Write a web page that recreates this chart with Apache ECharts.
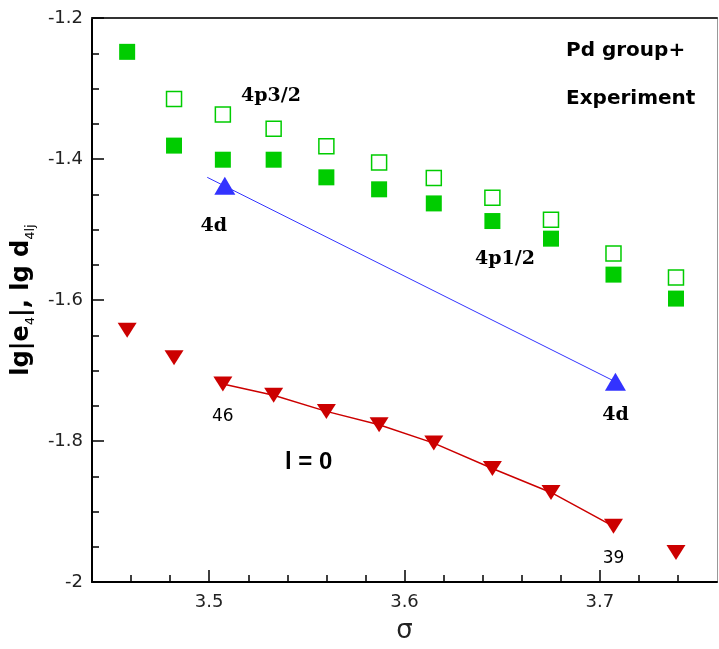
<!DOCTYPE html>
<html>
<head>
<meta charset="utf-8">
<script src="https://cdn.jsdelivr.net/npm/echarts@6/dist/echarts.min.js"></script>
<style>
html,body{margin:0;padding:0;background:#fff;}
#chart{width:719px;height:649px;}
</style>
</head>
<body>
<div id="chart"></div>
<script>
// sigma values shared by all data series
var sigma = [3.458, 3.482, 3.507, 3.533, 3.560, 3.587, 3.615, 3.645, 3.675, 3.707, 3.739];
// 4p1/2 (filled squares)
var p12 = [-1.248, -1.381, -1.401, -1.401, -1.426, -1.443, -1.463, -1.488, -1.513, -1.564, -1.598];
// 4p3/2 (open squares), starts at sigma index 1
var p32 = [null, -1.315, -1.337, -1.357, -1.382, -1.405, -1.427, -1.455, -1.486, -1.534, -1.568];
// l = 0 (down triangles)
var l0 = [-1.643, -1.682, -1.719, -1.735, -1.758, -1.777, -1.803, -1.839, -1.873, -1.921, -1.958];
var l0Tags = ['', '', '46', '', '', '', '', '', '', '39', ''];
var l0LineFrom = 2, l0LineTo = 9;
// 4d (up triangles)
var d4X = [3.508, 3.708];
var d4Y = [-1.438, -1.716];
var d4Tags = ['4d', '4d'];
// 4d guide line
var d4LineX = [3.499, 3.708];
var d4LineY = [-1.426, -1.716];
// axis ticks
var xMajor = [3.5, 3.6, 3.7];
var xMinor = [3.46, 3.48, 3.52, 3.54, 3.56, 3.58, 3.62, 3.64, 3.66, 3.68, 3.72, 3.74];

function pairs(xs, ys) {
  var out = [];
  for (var i = 0; i < xs.length; i++) {
    if (ys[i] !== null && ys[i] !== undefined) out.push([xs[i], ys[i]]);
  }
  return out;
}

var GREEN = '#00cc00', RED = '#cc0000', BLUE = '#3333ff';
var labelFont = 'DejaVu Sans';

var l0Dist = { 2: 17, 9: 16 };
var l0Data = sigma.map(function (x, i) {
  var item = { value: [x, l0[i]] };
  if (l0Tags[i]) {
    item.label = {
      show: true, position: 'bottom', distance: l0Dist[i], formatter: l0Tags[i],
      fontFamily: labelFont, fontSize: 17, color: '#000'
    };
  }
  return item;
});
var l0Line = [];
for (var i = l0LineFrom; i <= l0LineTo; i++) l0Line.push([sigma[i], l0[i]]);

var d4Offsets = [[-11, 0], [0, 0]];
var d4Dist = [22, 15];
var d4Data = d4X.map(function (x, i) {
  return {
    value: [x, d4Y[i]],
    label: {
      show: true, position: 'bottom', distance: d4Dist[i], offset: d4Offsets[i],
      formatter: d4Tags[i], fontFamily: 'DejaVu Serif', fontWeight: 'bold', fontSize: 19, color: '#000'
    }
  };
});

var chart = echarts.init(document.getElementById('chart'), null, { renderer: 'canvas' });

var option = {
  backgroundColor: '#fff',
  animation: false,
  grid: { left: 92, right: 2, top: 18, bottom: 61, containLabel: false },
  xAxis: [
    {
      type: 'value', min: 3.44, max: 3.76, position: 'bottom',
      axisLine: { show: true, onZero: false, lineStyle: { color: '#000', width: 2 } },
      axisTick: { show: true, inside: true, length: 12, customValues: xMajor, lineStyle: { color: '#000', width: 1.5 } },
      axisLabel: { show: true, customValues: xMajor, margin: 11, fontFamily: labelFont, fontSize: 18, color: '#222' },
      splitLine: { show: false },
      name: 'σ', nameLocation: 'middle', nameGap: 36,
      nameTextStyle: { fontFamily: labelFont, fontSize: 26, color: '#222' }
    },
    {
      type: 'value', min: 3.44, max: 3.76, position: 'bottom', offset: 0,
      axisLine: { show: false, onZero: false },
      axisTick: { show: true, inside: true, length: 7, customValues: xMinor, lineStyle: { color: '#000', width: 1.5 } },
      axisLabel: { show: false },
      splitLine: { show: false }
    },
    {
      type: 'value', min: 3.44, max: 3.76, position: 'top',
      axisLine: { show: true, onZero: false, lineStyle: { color: '#333', width: 2 } },
      axisTick: { show: false }, axisLabel: { show: false }, splitLine: { show: false }
    }
  ],
  yAxis: [
    {
      type: 'value', min: -2, max: -1.2, interval: 0.2, position: 'left',
      axisLine: { show: true, onZero: false, lineStyle: { color: '#000', width: 2 } },
      axisTick: { show: true, inside: true, length: 12, lineStyle: { color: '#000', width: 1.5 } },
      minorTick: { show: true, splitNumber: 4, length: 7, lineStyle: { color: '#000', width: 1.5 } },
      axisLabel: { margin: 9, fontFamily: labelFont, fontSize: 18, color: '#222' },
      splitLine: { show: false }, minorSplitLine: { show: false },
      name: '{m|lg|e}{s|4}{m||, lg d}{s|4lj}',
      nameLocation: 'middle', nameRotate: 90, nameGap: 46,
      nameTextStyle: {
        rich: {
          m: { fontFamily: labelFont, fontWeight: 'bold', fontSize: 24, color: '#000', lineHeight: 30 },
          s: { fontFamily: labelFont, fontSize: 13, color: '#000', lineHeight: 13, verticalAlign: 'bottom' }
        }
      }
    },
    {
      type: 'value', min: -2, max: -1.2, position: 'right',
      axisLine: { show: true, onZero: false, lineStyle: { color: '#999', width: 1 } },
      axisTick: { show: false }, axisLabel: { show: false }, splitLine: { show: false }
    }
  ],
  series: [
    {
      type: 'line', xAxisIndex: 0, yAxisIndex: 0, data: pairs(d4LineX, d4LineY),
      showSymbol: false, symbol: 'none', lineStyle: { color: BLUE, width: 1 }, z: 2, silent: true
    },
    {
      type: 'line', xAxisIndex: 0, yAxisIndex: 0, data: l0Line,
      showSymbol: false, symbol: 'none', lineStyle: { color: RED, width: 1.5 }, z: 2, silent: true
    },
    {
      type: 'scatter', name: '4p3/2', data: pairs(sigma, p32),
      symbol: 'rect', symbolSize: 15,
      itemStyle: { color: '#fff', borderColor: GREEN, borderWidth: 1.5, opacity: 1 }, z: 3
    },
    {
      type: 'scatter', name: '4p1/2', data: pairs(sigma, p12),
      symbol: 'rect', symbolSize: 16,
      itemStyle: { color: GREEN, opacity: 1 }, z: 3
    },
    {
      type: 'scatter', name: 'l=0', data: l0Data,
      symbol: 'triangle', symbolRotate: 180, symbolSize: [19, 15],
      itemStyle: { color: RED, opacity: 1 }, z: 3
    },
    {
      type: 'scatter', name: '4d', data: d4Data,
      symbol: 'triangle', symbolSize: [21, 18],
      itemStyle: { color: BLUE, opacity: 1 }, z: 3
    }
  ],
  graphic: [
    { type: 'text', x: 566, y: 51, style: { text: 'Pd group+', font: 'bold 20px "DejaVu Sans"', fill: '#000', verticalAlign: 'middle', align: 'left' } },
    { type: 'text', x: 566, y: 99, style: { text: 'Experiment', font: 'bold 20px "DejaVu Sans"', fill: '#000', verticalAlign: 'middle', align: 'left' } },
    { type: 'text', x: 241, y: 96, style: { text: '4p3/2', font: 'bold 19px "DejaVu Serif"', fill: '#000', verticalAlign: 'middle', align: 'left' } },
    { type: 'text', x: 475, y: 259, style: { text: '4p1/2', font: 'bold 19px "DejaVu Serif"', fill: '#000', verticalAlign: 'middle', align: 'left' } },
    { type: 'text', x: 285, y: 462, style: { text: 'l = 0', font: 'bold 24px "Liberation Sans"', fill: '#000', verticalAlign: 'middle', align: 'left' } }
  ]
};
chart.setOption(option);
</script>
</body>
</html>
